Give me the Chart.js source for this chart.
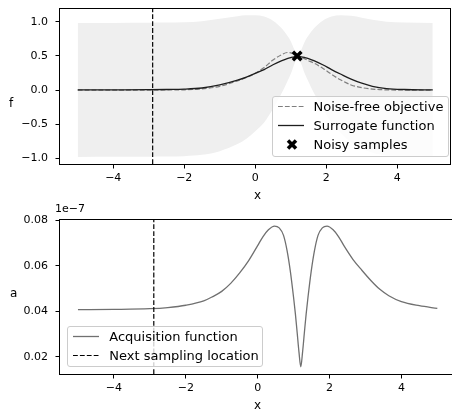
<!DOCTYPE html>
<html>
<head>
<meta charset="utf-8">
<script src="https://cdn.jsdelivr.net/npm/chart.js@4.4.0/dist/chart.umd.min.js"></script>
<style>
  body { margin:0; background:#fff; width:452px; height:412px; overflow:hidden; position:relative;
         font-family:"DejaVu Sans", sans-serif; color:#000; }
  canvas { position:absolute; left:0; }
  #topChart { top:-8px; }
  #botChart { top:200px; }
  .lbl { position:absolute; white-space:nowrap; }
  .legend { position:absolute; box-sizing:border-box; background:rgba(255,255,255,0.8);
            border:1px solid #cccccc; border-radius:3px; font-size:13px; }
  .legend .row { position:absolute; left:0; right:0; height:19px; display:flex; align-items:center; }
  .legend svg { position:absolute; top:0; }
  .legend span { position:absolute; left:41px; white-space:nowrap; }
</style>
</head>
<body>
<canvas id="topChart" width="460" height="198"></canvas>
<canvas id="botChart" width="460" height="212"></canvas>

<div class="lbl" style="left:9px;top:96.5px;font-size:12px;line-height:12px;">f</div>
<div class="lbl" style="left:257.5px;top:189px;font-size:12px;line-height:12px;transform:translateX(-50%);">x</div>
<div class="lbl" style="left:10px;top:287px;font-size:12px;line-height:12px;">a</div>
<div class="lbl" style="left:257.5px;top:399px;font-size:12px;line-height:12px;transform:translateX(-50%);">x</div>
<div class="lbl" style="left:55px;top:203px;font-size:11px;line-height:11px;">1e&minus;7</div>

<div class="legend" id="topLegend" style="left:271.5px;top:96px;width:177px;height:61px;"></div>
<div class="legend" id="botLegend" style="left:67.3px;top:326px;width:196px;height:41px;"></div>

<script>
// top panel: objective, surrogate and its uncertainty band
var xs        = [-5, -4, -3, -2.5, -2, -1.5, -1, -0.5, -0.25, 0, 0.25, 0.5, 0.75, 0.9, 1.0, 1.1, 1.15, 1.2, 1.25, 1.3, 1.4, 1.5, 1.65, 1.9, 2.15, 2.4, 2.7, 3.0, 3.3, 3.7, 4.2, 5.0];
var surrogate = [0.002, 0.003, 0.005, 0.008, 0.013, 0.03, 0.075, 0.145, 0.19, 0.245, 0.30, 0.37, 0.43, 0.46, 0.475, 0.487, 0.489, 0.49, 0.489, 0.487, 0.475, 0.46, 0.43, 0.37, 0.30, 0.235, 0.16, 0.10, 0.055, 0.022, 0.008, 0.003];
var objective = [0, 0, 0, 0.001, 0.004, 0.018, 0.055, 0.135, 0.185, 0.245, 0.33, 0.44, 0.52, 0.55, 0.545, 0.525, 0.512, 0.50, 0.49, 0.48, 0.455, 0.43, 0.395, 0.32, 0.23, 0.15, 0.075, 0.035, 0.015, 0.003, 0, 0];
var upper     = [0.982, 0.983, 0.985, 0.988, 0.993, 1.008, 1.044, 1.081, 1.094, 1.094, 1.075, 1.013, 0.900, 0.798, 0.716, 0.595, 0.543, 0.505, 0.543, 0.595, 0.716, 0.798, 0.900, 1.013, 1.075, 1.095, 1.086, 1.058, 1.029, 1.001, 0.988, 0.983];
var lower     = [-0.978, -0.977, -0.975, -0.972, -0.967, -0.948, -0.894, -0.791, -0.714, -0.604, -0.475, -0.273, -0.040, 0.122, 0.234, 0.379, 0.435, 0.475, 0.435, 0.379, 0.234, 0.122, -0.040, -0.273, -0.475, -0.625, -0.766, -0.860, -0.919, -0.957, -0.972, -0.977];
var sampleX = [1.18];
var sampleY = [0.5];
var nextX = -2.89;

// bottom panel: acquisition function (x 1e-7)
var acqX = [-5, -4, -3, -2.5, -2, -1.5, -1.25, -1, -0.75, -0.5, -0.25, 0, 0.15, 0.3, 0.47, 0.6, 0.72, 0.82, 0.91, 1.0, 1.05, 1.1, 1.15, 1.2, 1.25, 1.3, 1.35, 1.4, 1.49, 1.58, 1.68, 1.8, 1.93, 2.1, 2.25, 2.4, 2.65, 2.9, 3.15, 3.4, 3.65, 4.0, 4.5, 5.0];
var acqY = [0.0407, 0.0408, 0.0411, 0.0416, 0.0426, 0.0445, 0.0464, 0.0487, 0.0522, 0.0568, 0.0622, 0.0688, 0.0728, 0.0758, 0.0774, 0.0766, 0.0733, 0.0665, 0.0575, 0.0460, 0.0388, 0.0305, 0.0220, 0.0155, 0.0220, 0.0305, 0.0388, 0.0460, 0.0575, 0.0665, 0.0733, 0.0766, 0.0774, 0.0758, 0.0728, 0.0688, 0.0628, 0.0580, 0.0535, 0.0496, 0.0468, 0.0442, 0.0424, 0.0412];

// axes
var xTicks = [-4, -2, 0, 2, 4];
var fTicks = [-1, -0.5, 0, 0.5, 1];
var aTicks = [0.02, 0.04, 0.06, 0.08];
var xRange = [-5.5, 5.5];
var fRange = [-1.082, 1.201];
var aRange = [0.0124, 0.0805];

var DASH = [4.8, 2.1];

function pairs(xa, ya) {
  return xa.map(function (x, i) { return { x: x, y: ya[i] }; });
}
function fmt(v, d) {
  return v.toFixed(d).replace('-', '\u2212');
}

// matplotlib style box round the axes
var frame = {
  id: 'frame',
  afterDraw: function (chart) {
    var a = chart.chartArea, ctx = chart.ctx;
    ctx.save();
    ctx.strokeStyle = '#000';
    ctx.lineWidth = 1;
    ctx.strokeRect(Math.round(a.left) - 0.5, Math.round(a.top) + 0.5,
                   Math.round(a.right - a.left), Math.round(a.bottom - a.top));
    ctx.restore();
  }
};

function makeOptions(yRange, yTicks, yDec, padTop, padBottom) {
  var tickFont = { family: 'DejaVu Sans', size: 11 };
  return {
    responsive: false,
    animation: false,
    devicePixelRatio: 1,
    layout: { padding: { left: 0, right: 4.7, top: padTop, bottom: padBottom } },
    elements: { point: { radius: 0 } },
    plugins: { legend: { display: false }, tooltip: { enabled: false } },
    scales: {
      x: {
        type: 'linear', min: xRange[0], max: xRange[1],
        afterBuildTicks: function (s) { s.ticks = xTicks.map(function (v) { return { value: v }; }); },
        afterFit: function (s) { s.height = 26; },
        border: { display: false },
        grid: { drawOnChartArea: false, drawTicks: true, tickLength: 4.5, tickColor: '#000', tickWidth: 1 },
        ticks: { font: tickFont, color: '#000', padding: 3, maxRotation: 0, autoSkip: false,
                 callback: function (v) { return fmt(v, 0); } }
      },
      y: {
        type: 'linear', min: yRange[0], max: yRange[1],
        afterBuildTicks: function (s) { s.ticks = yTicks.map(function (v) { return { value: v }; }); },
        afterFit: function (s) { s.width = 60; },
        border: { display: false },
        grid: { drawOnChartArea: false, drawTicks: true, tickLength: 4.5, tickColor: '#000', tickWidth: 1 },
        ticks: { font: tickFont, color: '#000', padding: 7.5, autoSkip: false,
                 callback: function (v) { return fmt(v, yDec); } }
      }
    }
  };
}

new Chart(document.getElementById('topChart'), {
  type: 'line',
  data: {
    datasets: [
      { data: pairs(sampleX, sampleY), showLine: false, pointStyle: 'crossRot', pointRadius: 6,
        pointBorderWidth: 3.5, pointBorderColor: '#000', pointBackgroundColor: '#000', order: 0 },
      { data: [{ x: nextX, y: fRange[0] }, { x: nextX, y: fRange[1] }], borderColor: '#000',
        borderWidth: 1.2, borderDash: DASH, order: 1 },
      { data: pairs(xs, surrogate), borderColor: '#1e1e1e', borderWidth: 1.3,
        cubicInterpolationMode: 'monotone', order: 2 },
      { data: pairs(xs, objective), borderColor: '#7f7f7f', borderWidth: 1.2, borderDash: DASH,
        cubicInterpolationMode: 'monotone', order: 3 },
      { data: pairs(xs, upper), borderWidth: 0, borderColor: 'rgba(0,0,0,0)', backgroundColor: '#efefef',
        fill: '+1', cubicInterpolationMode: 'monotone', order: 5 },
      { data: pairs(xs, lower), borderWidth: 0, borderColor: 'rgba(0,0,0,0)',
        cubicInterpolationMode: 'monotone', order: 5 }
    ]
  },
  options: makeOptions(fRange, fTicks, 1, 16, 0),
  plugins: [frame]
});

new Chart(document.getElementById('botChart'), {
  type: 'line',
  data: {
    datasets: [
      { data: [{ x: nextX, y: aRange[0] }, { x: nextX, y: aRange[1] }], borderColor: '#000',
        borderWidth: 1.2, borderDash: DASH, order: 0 },
      { data: pairs(acqX, acqY), borderColor: '#707070', borderWidth: 1.3,
        cubicInterpolationMode: 'monotone', order: 1 }
    ]
  },
  options: makeOptions(aRange, aTicks, 2, 19, 12),
  plugins: [frame]
});

// legends drawn as html so they sit inside the axes like matplotlib
function handle(kind) {
  var s = '<svg width="28" height="19" style="left:5px">';
  if (kind === 'dash-grey') s += '<line x1="0" y1="9.5" x2="26" y2="9.5" stroke="#7f7f7f" stroke-width="1.2" stroke-dasharray="' + DASH.join(' ') + '"/>';
  if (kind === 'dash-black') s += '<line x1="0" y1="9.5" x2="26" y2="9.5" stroke="#000" stroke-width="1.2" stroke-dasharray="' + DASH.join(' ') + '"/>';
  if (kind === 'solid-black') s += '<line x1="0" y1="9.5" x2="26" y2="9.5" stroke="#1e1e1e" stroke-width="1.3"/>';
  if (kind === 'solid-grey') s += '<line x1="0" y1="9.5" x2="26" y2="9.5" stroke="#707070" stroke-width="1.3"/>';
  if (kind === 'cross') s += '<g stroke="#000" stroke-width="3.5"><line x1="10" y1="5.5" x2="18" y2="13.5"/><line x1="18" y1="5.5" x2="10" y2="13.5"/></g>';
  return s + '</svg>';
}
function fillLegend(id, items, tops) {
  var html = '';
  items.forEach(function (it, i) {
    html += '<div class="row" style="top:' + tops[i] + 'px">' + handle(it[0]) + '<span>' + it[1] + '</span></div>';
  });
  document.getElementById(id).innerHTML = html;
}
fillLegend('topLegend', [['dash-grey', 'Noise-free objective'], ['solid-black', 'Surrogate function'], ['cross', 'Noisy samples']], [-0.5, 18.5, 37.5]);
fillLegend('botLegend', [['solid-grey', 'Acquisition function'], ['dash-black', 'Next sampling location']], [-0.5, 19]);
</script>
</body>
</html>
